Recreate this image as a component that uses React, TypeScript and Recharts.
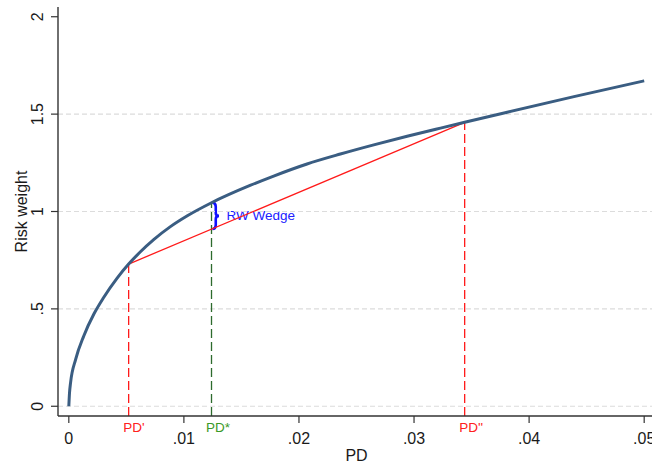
import React from "react";
import {
  ComposedChart,
  Line,
  XAxis,
  YAxis,
  ReferenceLine,
  ReferenceDot,
  ReferenceArea,
} from "recharts";

// risk weight curve
const pdValues = [
  0, 0.00006, 0.00015, 0.0006, 0.0013, 0.0022, 0.003, 0.0042, 0.0052, 0.0062,
  0.0074, 0.0088, 0.0103, 0.0124, 0.0158, 0.0178, 0.0207, 0.0236, 0.0265,
  0.0294, 0.0323, 0.0344, 0.0381, 0.0439, 0.05,
];
const rwValues = [
  0, 0.068, 0.12, 0.242, 0.361, 0.476, 0.556, 0.658, 0.73, 0.792, 0.857, 0.921,
  0.978, 1.045, 1.135, 1.182, 1.244, 1.295, 1.342, 1.386, 1.428, 1.458, 1.51,
  1.59, 1.671,
];

const xTicks = [0, 0.01, 0.02, 0.03, 0.04, 0.05];
const yTicks = [0, 0.5, 1, 1.5, 2];
const gridValues = [0, 0.5, 1, 1.5];

// marked points
const pdLow = 0.0052;
const rwLow = 0.73;
const pdStar = 0.0124;
const rwStarCurve = 1.045;
const rwStarChord = 0.91;
const pdHigh = 0.0344;
const rwHigh = 1.458;

const markLabels = [
  { pd: pdLow, text: "PD'", color: "#ff2020" },
  { pd: pdStar, text: "PD*", color: "#3a9a28" },
  { pd: pdHigh, text: "PD''", color: "#ff2020" },
];

const data = pdValues.map((pd, i) => ({ pd, rw: rwValues[i] }));

const FONT = "'Liberation Sans', Arial, sans-serif";
const AXIS = "#333333";
const CURVE = "#3a5d82";

const fmt = (v: number) => (v === 0 ? "0" : String(v).replace(/^0\./, "."));

const XTick = (props: any) => {
  const { x, y, payload } = props;
  return (
    <text x={x} y={y + 19} textAnchor="middle" fontSize={16} fontFamily={FONT} fill="#1a1a1a">
      {fmt(payload.value)}
    </text>
  );
};

const YTick = (props: any) => {
  const { x, y, payload } = props;
  const bx = x - 6;
  return (
    <text
      x={bx}
      y={y}
      transform={`rotate(-90 ${bx} ${y})`}
      textAnchor="middle"
      fontSize={16}
      fontFamily={FONT}
      fill="#1a1a1a"
    >
      {fmt(payload.value)}
    </text>
  );
};

const Brace = (p: any) => {
  const top = p.y;
  const bot = p.y + p.height;
  const mid = (top + bot) / 2;
  const x0 = p.x + 1;
  const w = 6.5;
  const h = w / 2;
  const d = `M ${x0} ${top} Q ${x0 + h} ${top} ${x0 + h} ${top + 4} L ${x0 + h} ${mid - 3} Q ${x0 + h} ${mid} ${x0 + w} ${mid} Q ${x0 + h} ${mid} ${x0 + h} ${mid + 3} L ${x0 + h} ${bot - 4} Q ${x0 + h} ${bot} ${x0} ${bot}`;
  return (
    <g>
      <path d={d} fill="none" stroke="#1010ff" strokeWidth={2.6} />
      <text x={x0 + 14} y={mid + 4} fontSize={13.5} fontFamily={FONT} fill="#2020ff">
        RW Wedge
      </text>
    </g>
  );
};

export default function App() {
  return (
    <div
      style={{
        position: "absolute",
        left: 0,
        top: 0,
        width: 652,
        height: 467,
        overflow: "hidden",
        background: "#fff",
      }}
    >
      <ComposedChart
        width={655}
        height={467}
        data={data}
        margin={{ top: 7, right: 0, bottom: 0, left: 0 }}
      >
        <XAxis
          dataKey="pd"
          type="number"
          domain={[-0.00094, 0.05094]}
          allowDataOverflow
          ticks={xTicks}
          interval={0}
          tick={<XTick />}
          tickSize={7}
          height={51}
          axisLine={{ stroke: AXIS, strokeWidth: 1.4 }}
          tickLine={{ stroke: AXIS, strokeWidth: 1.2 }}
          label={{
            content: (p: any) => (
              <text
                x={p.viewBox.x + p.viewBox.width / 2}
                y={p.viewBox.y + 45}
                textAnchor="middle"
                fontSize={16}
                fontFamily={FONT}
                fill="#1a1a1a"
              >
                PD
              </text>
            ),
          }}
        />
        <YAxis
          type="number"
          domain={[-0.05, 2.05]}
          allowDataOverflow
          ticks={yTicks}
          interval={0}
          tick={<YTick />}
          tickSize={7}
          width={58}
          axisLine={{ stroke: AXIS, strokeWidth: 1.4 }}
          tickLine={{ stroke: AXIS, strokeWidth: 1.2 }}
          label={{
            content: (p: any) => {
              const cx = p.viewBox.x + 27;
              const cy = p.viewBox.y + p.viewBox.height / 2;
              return (
                <text
                  x={cx}
                  y={cy}
                  transform={`rotate(-90 ${cx} ${cy})`}
                  textAnchor="middle"
                  fontSize={16}
                  fontFamily={FONT}
                  fill="#1a1a1a"
                >
                  Risk weight
                </text>
              );
            },
          }}
        />
        {gridValues.map((v) => (
          <ReferenceLine
            key={v}
            y={v}
            stroke="#dcdcdc"
            strokeWidth={1.2}
            strokeDasharray="5 3"
          />
        ))}
        <ReferenceLine
          segment={[
            { x: pdLow, y: -0.05 },
            { x: pdLow, y: rwLow },
          ]}
          stroke="#ff1a1a"
          strokeWidth={1.3}
          strokeDasharray="9 4"
          ifOverflow="visible"
        />
        <ReferenceLine
          segment={[
            { x: pdHigh, y: -0.05 },
            { x: pdHigh, y: rwHigh },
          ]}
          stroke="#ff1a1a"
          strokeWidth={1.3}
          strokeDasharray="9 4"
          ifOverflow="visible"
        />
        <ReferenceLine
          segment={[
            { x: pdStar, y: -0.05 },
            { x: pdStar, y: rwStarCurve },
          ]}
          stroke="#2d6b2d"
          strokeWidth={1.3}
          strokeDasharray="9 4"
          ifOverflow="visible"
        />
        <ReferenceLine
          segment={[
            { x: pdLow, y: rwLow },
            { x: pdHigh, y: rwHigh },
          ]}
          stroke="#ff1a1a"
          strokeWidth={1.3}
          ifOverflow="visible"
        />
        <Line
          dataKey="rw"
          type="monotone"
          stroke={CURVE}
          strokeWidth={3}
          dot={false}
          isAnimationActive={false}
        />
        <ReferenceArea
          x1={pdStar}
          x2={pdStar}
          y1={rwStarChord}
          y2={rwStarCurve}
          ifOverflow="visible"
          shape={<Brace />}
        />
        {markLabels.map((m) => (
          <ReferenceDot
            key={m.text}
            x={m.pd}
            y={-0.05}
            r={0}
            ifOverflow="visible"
            shape={(p: any) => (
              <text
                x={p.cx - 5.5}
                y={p.cy + 16}
                fontSize={13.5}
                fontFamily={FONT}
                fill={m.color}
              >
                {m.text}
              </text>
            )}
          />
        ))}
      </ComposedChart>
    </div>
  );
}
